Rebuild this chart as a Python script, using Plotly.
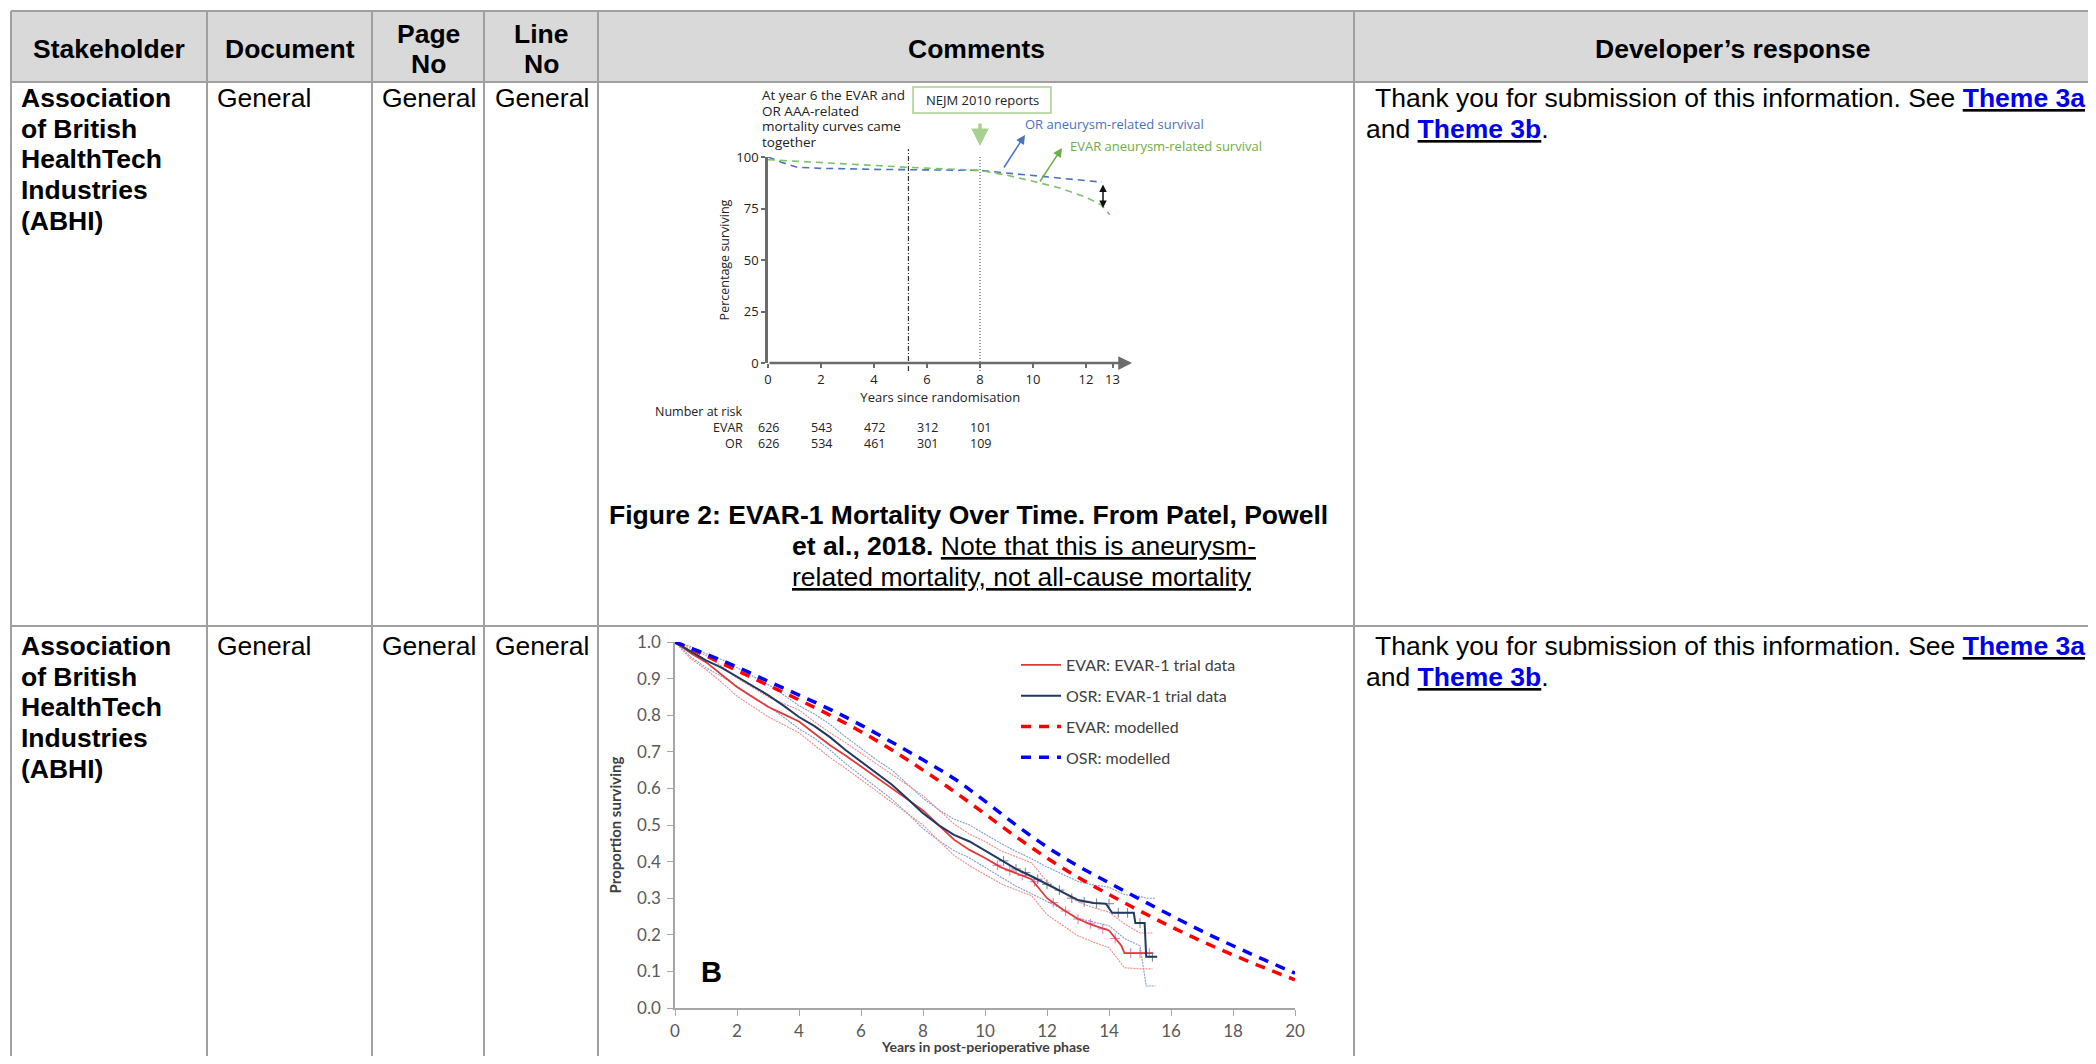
import plotly.graph_objects as go

# page is 2096x1064; the browser body keeps its default 8px margin,
# so the figure is sized to fit exactly inside it
PAGE_W, PAGE_H = 2096, 1064
OFF = 8
W, H = PAGE_W - 2 * OFF, PAGE_H - 2 * OFF

# ---------------- table content ----------------
header_labels = [["Stakeholder"], ["Document"], ["Page", "No"], ["Line", "No"], ["Comments"], ["Developer’s response"]]
stakeholder_lines = ["Association", "of British", "HealthTech", "Industries", "(ABHI)"]
document_value = "General"
page_value = "General"
line_value = "General"
response_line1 = "Thank you for submission of this information. See "
response_line2 = "and "
theme_links = ["Theme 3a", "Theme 3b"]
caption_line1 = "Figure 2: EVAR-1 Mortality Over Time. From Patel, Powell"
caption_line2_bold = "et al., 2018."
caption_line2_ul = "Note that this is aneurysm-"
caption_line3_ul = "related mortality, not all-cause mortality"

# ---------------- Figure 2: aneurysm-related survival (%) ----------------
f2_or_years = [0, 0.5, 1.1, 2, 4, 6, 8, 10, 12.6]
f2_or_surv = [100, 97.5, 95, 94.5, 94, 93.7, 93.5, 91, 87.8]
f2_evar_years = [0, 2, 4, 5.3, 8, 9, 10, 11, 12, 12.6, 12.9]
f2_evar_surv = [98.7, 97.3, 96, 95, 93.5, 91.2, 88.2, 85, 80.5, 76.5, 72]
f2_xticks = [0, 2, 4, 6, 8, 10, 12, 13]
f2_yticks = [0, 25, 50, 75, 100]
f2_converge_year = 5.3
f2_nejm_year = 8
risk_years = [0, 2, 4, 6, 8]
risk_evar = [626, 543, 472, 312, 101]
risk_or = [626, 534, 461, 301, 109]
f2_notes = ["At year 6 the EVAR and", "OR AAA-related", "mortality curves came", "together"]

# ---------------- Figure B: proportion surviving ----------------
model_years = [0, 1, 2, 3, 4, 5, 6, 7, 8, 9, 10, 11, 12, 13, 14, 15, 16, 17, 18, 19, 20]
osr_model = [1.0, 0.967, 0.932, 0.893, 0.855, 0.816, 0.773, 0.726, 0.678, 0.627, 0.565,
             0.5, 0.44, 0.388, 0.342, 0.297, 0.253, 0.21, 0.17, 0.132, 0.095]
evar_model = [1.0, 0.962, 0.922, 0.882, 0.842, 0.8, 0.755, 0.705, 0.65, 0.592, 0.53,
              0.468, 0.41, 0.357, 0.31, 0.265, 0.222, 0.182, 0.145, 0.11, 0.077]

osr_trial_years = [0, 0.5, 1, 1.5, 2, 2.5, 3, 3.5, 4, 4.5, 5, 5.5, 6, 6.5, 7, 7.5, 8, 8.5, 9, 9.5,
                   10, 10.5, 11, 11.5, 12, 12.5, 13, 13.5, 13.9, 14.1, 14.8, 14.85, 15.15, 15.2, 15.55]
osr_trial = [1.0, 0.975, 0.95, 0.93, 0.905, 0.88, 0.855, 0.826, 0.795, 0.77, 0.74, 0.705, 0.673,
             0.64, 0.61, 0.572, 0.532, 0.5, 0.473, 0.455, 0.43, 0.404, 0.38, 0.36, 0.338, 0.318,
             0.295, 0.287, 0.285, 0.26, 0.26, 0.232, 0.232, 0.14, 0.14]
evar_trial_years = [0, 0.5, 1, 1.5, 2, 2.5, 3, 3.5, 4, 4.5, 5, 5.5, 6, 6.5, 7, 7.5, 8, 8.5, 9, 9.5,
                    10, 10.5, 11, 11.5, 12, 12.5, 13, 13.5, 14, 14.4, 14.5, 15.4]
evar_trial = [1.0, 0.97, 0.945, 0.912, 0.877, 0.85, 0.823, 0.803, 0.783, 0.75, 0.718, 0.69, 0.66,
              0.63, 0.6, 0.57, 0.54, 0.5, 0.46, 0.432, 0.41, 0.385, 0.368, 0.352, 0.3, 0.27,
              0.243, 0.226, 0.212, 0.17, 0.15, 0.15]
# censoring marks seen on the trial curves (late follow-up)
osr_censor_years = [10.6, 11.0, 11.3, 11.7, 12.0, 12.4, 12.8, 13.2, 13.6, 14.0, 14.3, 14.6, 15.0, 15.4]
osr_censor = [0.402, 0.38, 0.37, 0.352, 0.338, 0.322, 0.3, 0.29, 0.286, 0.285, 0.26, 0.26, 0.232, 0.14]
evar_censor_years = [10.4, 10.8, 11.2, 11.6, 12.2, 12.6, 13.0, 13.4, 13.8, 14.2, 14.7, 15.0, 15.3]
evar_censor = [0.39, 0.375, 0.362, 0.345, 0.288, 0.265, 0.243, 0.23, 0.216, 0.19, 0.15, 0.15, 0.15]

osr_ci_years = [0, 0.5, 1, 1.5, 2, 2.5, 3, 3.5, 4, 4.5, 5, 5.5, 6, 6.5, 7, 7.5, 8, 8.5, 9, 9.5,
                10, 10.5, 11, 11.5, 12, 12.5, 13, 13.5, 14, 14.5, 15, 15.2, 15.5]
osr_upper = [1.0, 0.988, 0.968, 0.952, 0.93, 0.907, 0.884, 0.856, 0.826, 0.803, 0.775, 0.741,
             0.71, 0.678, 0.65, 0.612, 0.573, 0.542, 0.516, 0.5, 0.475, 0.45, 0.428, 0.408,
             0.385, 0.366, 0.346, 0.336, 0.33, 0.31, 0.305, 0.3, 0.3]
osr_lower = [1.0, 0.96, 0.93, 0.906, 0.879, 0.852, 0.825, 0.795, 0.763, 0.737, 0.705, 0.668,
             0.636, 0.602, 0.57, 0.532, 0.49, 0.458, 0.43, 0.41, 0.385, 0.358, 0.333, 0.312,
             0.29, 0.27, 0.245, 0.236, 0.225, 0.19, 0.17, 0.06, 0.06]
evar_ci_years = [0, 0.5, 1, 1.5, 2, 2.5, 3, 3.5, 4, 4.5, 5, 5.5, 6, 6.5, 7, 7.5, 8, 8.5, 9, 9.5,
                 10, 10.5, 11, 11.5, 12, 12.5, 13, 13.5, 14, 14.5, 15, 15.4]
evar_upper = [1.0, 0.983, 0.963, 0.934, 0.902, 0.876, 0.85, 0.832, 0.814, 0.782, 0.752, 0.725,
              0.696, 0.667, 0.638, 0.609, 0.58, 0.542, 0.503, 0.475, 0.455, 0.43, 0.413, 0.397,
              0.345, 0.316, 0.29, 0.274, 0.262, 0.23, 0.205, 0.205]
evar_lower = [1.0, 0.955, 0.925, 0.89, 0.852, 0.824, 0.796, 0.774, 0.752, 0.718, 0.684, 0.655,
              0.624, 0.593, 0.562, 0.531, 0.5, 0.458, 0.417, 0.389, 0.365, 0.34, 0.323, 0.307,
              0.255, 0.225, 0.197, 0.18, 0.165, 0.11, 0.107, 0.107]
fb_yticks = [0.0, 0.1, 0.2, 0.3, 0.4, 0.5, 0.6, 0.7, 0.8, 0.9, 1.0]
fb_xticks = [0, 2, 4, 6, 8, 10, 12, 14, 16, 18, 20]
fb_xtitle = "Years in post-perioperative phase"
fb_ytitle = "Proportion surviving"


# ---------------- helpers (page pixel -> paper) ----------------
def PX(x):
    return (x - OFF) / W


def PY(y):
    return 1 - (y - OFF) / H


TABLE_FONT = "Liberation Sans, Arial, sans-serif"
F2_FONT = "Open Sans, Noto Sans, sans-serif"
FB_FONT = "Lato, sans-serif"
FS = 26.5
LINE_H = 30.7

shapes = []
annotations = []

# ---------------- table frame ----------------
col_edges = [11, 207, 372, 484, 598, 1354, 2110]
top_y, head_y, row2_y = 11, 82, 626
grid = "#a0a0a0"
shapes.append(dict(type="rect", xref="paper", yref="paper", x0=PX(col_edges[0]), x1=PX(col_edges[-1]),
                   y0=PY(head_y), y1=PY(top_y), fillcolor="#d9d9d9", line=dict(width=0), layer="below"))
for yy in (top_y, head_y, row2_y):
    shapes.append(dict(type="line", xref="paper", yref="paper", x0=PX(col_edges[0]), x1=PX(col_edges[-1]),
                       y0=PY(yy), y1=PY(yy), line=dict(color=grid, width=2)))
for xx in col_edges:
    shapes.append(dict(type="line", xref="paper", yref="paper", x0=PX(xx), x1=PX(xx),
                       y0=PY(top_y), y1=PY(PAGE_H + 10), line=dict(color=grid, width=2)))


def txt(x, y, text, anchor="left", size=FS, family=TABLE_FONT, color="#000", **kw):
    d = dict(xref="paper", yref="paper", x=PX(x), y=PY(y), text=text, showarrow=False,
             xanchor=anchor, yanchor="middle", font=dict(family=family, size=size, color=color))
    d.update(kw)
    annotations.append(d)


# header
for i, lab in enumerate(header_labels):
    cx = (col_edges[i] + col_edges[i + 1]) / 2
    if len(lab) == 1:
        txt(cx, 49, "<b>%s</b>" % lab[0], anchor="center")
    else:
        txt(cx, 34, "<b>%s</b>" % lab[0], anchor="center")
        txt(cx, 64, "<b>%s</b>" % lab[1], anchor="center")


def link(s):
    return "<b><u><span style='color:#0000ee'>%s</span></u></b>" % s


for ry in (98, 646):
    for k, s in enumerate(stakeholder_lines):
        txt(19, ry + k * LINE_H, "<b>%s</b>" % s)
    txt(215, ry, document_value)
    txt(380, ry, page_value)
    txt(493, ry, line_value)
    txt(1373, ry, response_line1 + link(theme_links[0]))
    txt(1364, ry + LINE_H, response_line2 + link(theme_links[1]) + ".")

# caption of figure 2
txt(968, 515, "<b>%s</b>" % caption_line1, anchor="center")
txt(790, 546, "<b>%s</b> <u>%s</u>" % (caption_line2_bold, caption_line2_ul))
txt(790, 577, "<u>%s</u>" % caption_line3_ul)

# ---------------- figure 2 decorations ----------------
X0_F2 = 768
PPY = 26.5
for k, s in enumerate(f2_notes):
    txt(760, 95 + k * 15.5, s, size=13.5, family=F2_FONT, color="#222")

shapes.append(dict(type="rect", xref="paper", yref="paper", x0=PX(913), x1=PX(1051), y0=PY(113), y1=PY(87),
                   line=dict(color="#a9d18e", width=1.5)))
txt(982, 100, "NEJM 2010 reports", anchor="center", size=13, family=F2_FONT, color="#222")
annotations.append(dict(xref="x", yref="paper", x=f2_nejm_year, y=PY(146), ax=0, ay=-24, text="",
                        showarrow=True, arrowhead=2, arrowsize=1, arrowwidth=3.5, arrowcolor="#a9d18e"))
annotations.append(dict(xref="paper", yref="paper", x=PX(1025), y=PY(135), ax=-22, ay=34, text="",
                        showarrow=True, arrowhead=2, arrowsize=1.2, arrowwidth=1.5, arrowcolor="#4a72c0"))
annotations.append(dict(xref="paper", yref="paper", x=PX(1062), y=PY(148), ax=-23, ay=35, text="",
                        showarrow=True, arrowhead=2, arrowsize=1.2, arrowwidth=1.5, arrowcolor="#70ad47"))
annotations.append(dict(xref="paper", yref="paper", x=PX(1103), y=PY(208), ax=0, ay=-25, text="",
                        showarrow=True, arrowhead=2, startarrowhead=2, arrowside="end+start",
                        arrowsize=1, arrowwidth=1.5, arrowcolor="#111"))
txt(1023, 124, "OR aneurysm-related survival", size=13, family=F2_FONT, color="#4a72c0")
txt(1068, 146, "EVAR aneurysm-related survival", size=13, family=F2_FONT, color="#70ad47")
# x axis line with arrow head
annotations.append(dict(xref="paper", yref="paper", x=PX(1132), y=PY(363), ax=-(1132 - X0_F2), ay=0, text="",
                        showarrow=True, arrowhead=2, arrowsize=1.1, arrowwidth=2.5, arrowcolor="#6b6b6b"))
# vertical reference lines
shapes.append(dict(type="line", xref="x", yref="paper", x0=f2_converge_year, x1=f2_converge_year,
                   y0=PY(371), y1=PY(149), line=dict(color="#333", width=1.2, dash="5px,2px,1px,2px")))
shapes.append(dict(type="line", xref="x", yref="paper", x0=f2_nejm_year, x1=f2_nejm_year,
                   y0=PY(371), y1=PY(157), line=dict(color="#444", width=1.1, dash="1px,2px")))
# number at risk
txt(745, 411, "Number at risk", anchor="right", size=12.5, family=F2_FONT, color="#222")
txt(745, 427, "EVAR", anchor="right", size=12.5, family=F2_FONT, color="#222")
txt(745, 443, "OR", anchor="right", size=12.5, family=F2_FONT, color="#222")
for yr, ev, orv in zip(risk_years, risk_evar, risk_or):
    annotations.append(dict(xref="x", yref="paper", x=yr, y=PY(427), text=str(ev), showarrow=False,
                            xanchor="center", yanchor="middle",
                            font=dict(family=F2_FONT, size=12.5, color="#222")))
    annotations.append(dict(xref="x", yref="paper", x=yr, y=PY(443), text=str(orv), showarrow=False,
                            xanchor="center", yanchor="middle",
                            font=dict(family=F2_FONT, size=12.5, color="#222")))

# figure B panel letter and x title (title sits at the very bottom edge)
txt(711, 972, "<b>B</b>", anchor="center", size=29, family=TABLE_FONT, color="#000")
annotations.append(dict(xref="x2", yref="paper", x=10, y=PY(1046), text="<b>%s</b>" % fb_xtitle,
                        showarrow=False, xanchor="center", yanchor="middle",
                        font=dict(family=FB_FONT, size=14, color="#404040")))

# ---------------- traces ----------------
fig = go.Figure()
fig.add_trace(go.Scatter(x=f2_or_years, y=f2_or_surv, mode="lines", xaxis="x", yaxis="y", showlegend=False,
                         line=dict(color="#4a72c0", width=1.6, dash="7px,5px"), hoverinfo="skip"))
fig.add_trace(go.Scatter(x=f2_evar_years, y=f2_evar_surv, mode="lines", xaxis="x", yaxis="y", showlegend=False,
                         line=dict(color="#7cc36a", width=1.6, dash="7px,5px"), hoverinfo="skip"))

for xs, ys, col in [(osr_ci_years, osr_upper, "#7f9ccf"), (osr_ci_years, osr_lower, "#7f9ccf"),
                    (evar_ci_years, evar_upper, "#f08a8a"), (evar_ci_years, evar_lower, "#f08a8a")]:
    fig.add_trace(go.Scatter(x=xs, y=ys, mode="lines", xaxis="x2", yaxis="y2", showlegend=False,
                             line=dict(color=col, width=1.1, dash="2px,1px"), hoverinfo="skip"))

for xs, ys, col in [(evar_censor_years, evar_censor, "rgba(224,58,58,0.6)"),
                    (osr_censor_years, osr_censor, "rgba(31,56,100,0.55)")]:
    fig.add_trace(go.Scatter(x=xs, y=ys, mode="markers", xaxis="x2", yaxis="y2", showlegend=False,
                             marker=dict(symbol="cross-thin-open", size=7, line=dict(color=col, width=1)),
                             hoverinfo="skip"))

fig.add_trace(go.Scatter(x=evar_trial_years, y=evar_trial, mode="lines", xaxis="x2", yaxis="y2",
                         name="EVAR: EVAR-1 trial data", legendgroup="a",
                         line=dict(color="#e03a3a", width=1.8)))
fig.add_trace(go.Scatter(x=osr_trial_years, y=osr_trial, mode="lines", xaxis="x2", yaxis="y2",
                         name="OSR: EVAR-1 trial data", legendgroup="b",
                         line=dict(color="#1f3864", width=2)))
fig.add_trace(go.Scatter(x=model_years, y=evar_model, mode="lines", xaxis="x2", yaxis="y2",
                         name="EVAR: modelled", legendgroup="c", line_shape="spline",
                         line=dict(color="#ff0000", width=3.5, dash="10px,8px")))
fig.add_trace(go.Scatter(x=model_years, y=osr_model, mode="lines", xaxis="x2", yaxis="y2",
                         name="OSR: modelled", legendgroup="d", line_shape="spline",
                         line=dict(color="#0000ff", width=3.5, dash="10px,8px")))

fig.update_layout(
    template="none",
    width=W, height=H, margin=dict(l=0, r=0, t=0, b=0, pad=0), autosize=False,
    paper_bgcolor="white", plot_bgcolor="white",
    showlegend=True,
    legend=dict(x=PX(1016), y=PY(648), xanchor="left", yanchor="top", bgcolor="rgba(0,0,0,0)",
                font=dict(family=FB_FONT, size=16, color="#404040"), tracegroupgap=7, itemwidth=40),
    xaxis=dict(domain=[PX(X0_F2), PX(X0_F2 + 13 * PPY)], range=[0, 13], anchor="y", automargin=False,
               tickvals=f2_xticks, showline=False, showgrid=False, zeroline=False,
               ticks="outside", ticklen=4, tickwidth=1.5, tickcolor="#6b6b6b",
               tickfont=dict(family=F2_FONT, size=13, color="#222"),
               title=dict(text="Years since randomisation", standoff=3,
                          font=dict(family=F2_FONT, size=13, color="#222"))),
    yaxis=dict(domain=[PY(363), PY(157)], range=[0, 100], anchor="x", automargin=False,
               tickvals=f2_yticks, showline=True, linecolor="#6b6b6b", linewidth=2.5,
               showgrid=False, zeroline=False,
               ticks="outside", ticklen=4, tickwidth=1.5, tickcolor="#6b6b6b",
               tickfont=dict(family=F2_FONT, size=13, color="#222"),
               title=dict(text="Percentage surviving", standoff=4,
                          font=dict(family=F2_FONT, size=12.5, color="#222"))),
    xaxis2=dict(domain=[PX(675), PX(1295)], range=[0, 20], anchor="y2", automargin=False,
                tickvals=fb_xticks, showline=True, linecolor="#a6a6a6", linewidth=1.5,
                showgrid=False, zeroline=False, ticks="outside", ticklen=6, tickcolor="#a6a6a6",
                tickfont=dict(family=FB_FONT, size=17, color="#595959"), ticklabelstandoff=1),
    yaxis2=dict(domain=[PY(1008), PY(642)], range=[0, 1.0], anchor="x2", automargin=False,
                tickvals=fb_yticks, tickformat=".1f", showline=True, linecolor="#a6a6a6", linewidth=1.5,
                showgrid=False, zeroline=False, ticks="outside", ticklen=6, tickcolor="#a6a6a6",
                tickfont=dict(family=FB_FONT, size=17, color="#595959"), ticklabelstandoff=3,
                title=dict(text="<b>%s</b>" % fb_ytitle, standoff=12,
                           font=dict(family=FB_FONT, size=15, color="#404040"))),
    shapes=shapes, annotations=annotations,
)

fig.write_html("out.html", config={"displayModeBar": False})
